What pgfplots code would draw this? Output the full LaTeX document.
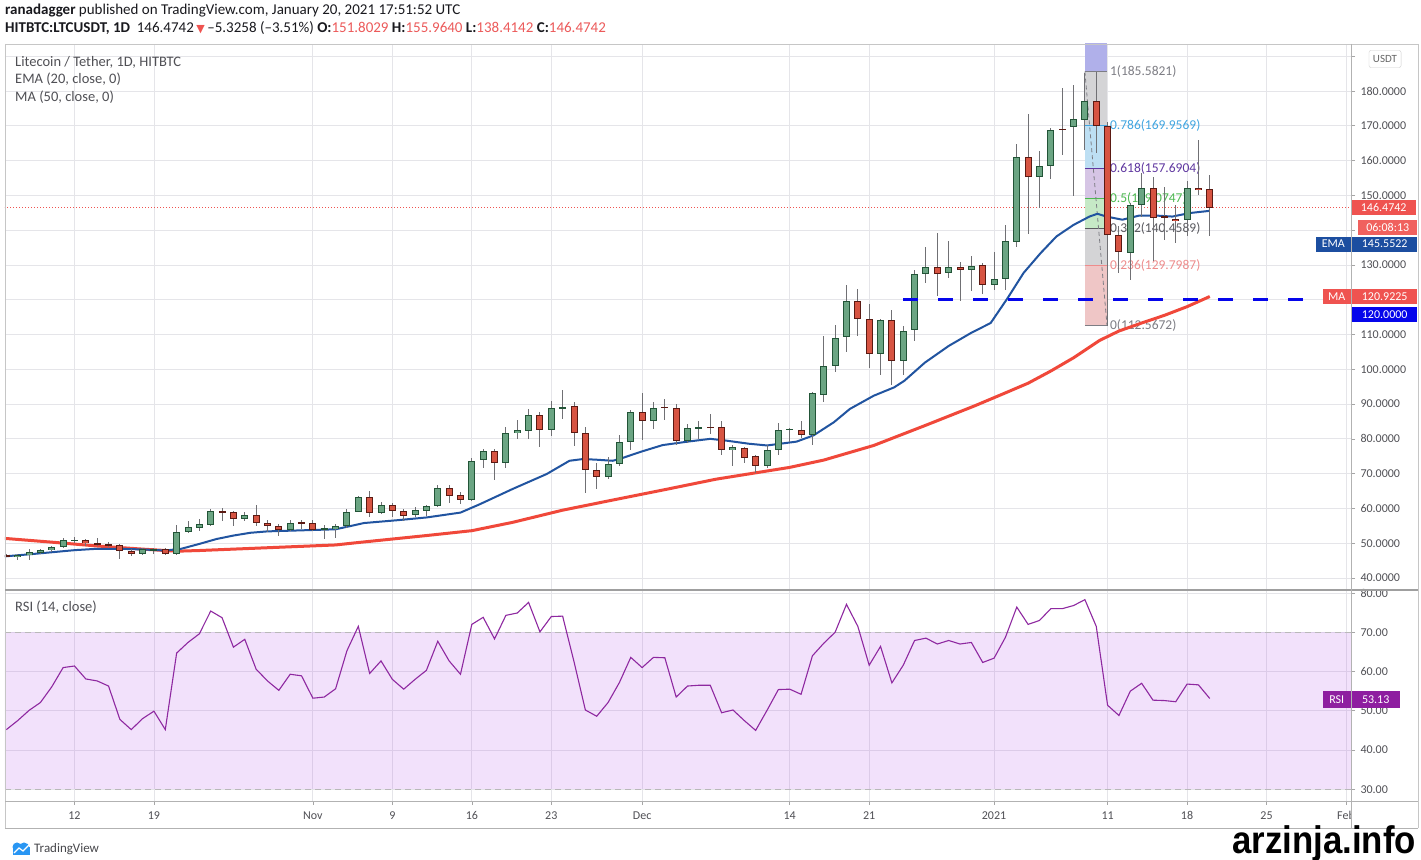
\documentclass[border=0pt]{standalone}
\usepackage{pgfplots}
\pgfplotsset{compat=1.18}
\usepackage{pgfplotstable}
\usepackage{fontspec}
\setmainfont{Carlito}
\newfontfamily\dejavu{DejaVu Sans}
\newfontfamily\libsans{Liberation Sans}
\newcommand{\fs}[1]{\fontsize{#1bp}{#1bp}\selectfont}

\definecolor{upfill}{RGB}{107,165,131}
\definecolor{upline}{RGB}{34,84,55}
\definecolor{dnfill}{RGB}{215,84,66}
\definecolor{dnline}{RGB}{91,26,19}
\definecolor{wick}{RGB}{112,112,116}
\definecolor{emac}{RGB}{33,84,160}
\definecolor{mac}{RGB}{240,72,58}
\definecolor{gridc}{RGB}{229,229,233}
\definecolor{rsic}{RGB}{142,40,160}
\definecolor{rsiband}{RGB}{170,60,230}
\definecolor{txtc}{RGB}{80,80,85}
\definecolor{hdr}{RGB}{25,25,30}
\definecolor{redlab}{RGB}{239,83,80}
\definecolor{redtxt}{RGB}{236,90,90}
\definecolor{emalab}{RGB}{28,78,160}
\definecolor{lvlblue}{RGB}{5,5,235}
\definecolor{rsilab}{RGB}{142,30,160}
\definecolor{tvblue}{RGB}{41,150,243}
\definecolor{fibtop}{RGB}{176,176,234}
\definecolor{fibgray}{RGB}{212,212,214}
\definecolor{fibblue}{RGB}{189,223,243}
\definecolor{fibpurple}{RGB}{214,197,229}
\definecolor{fibgreen}{RGB}{198,233,198}
\definecolor{fibpink}{RGB}{239,198,198}
\definecolor{fl1}{RGB}{125,125,132}
\definecolor{fl786}{RGB}{64,165,225}
\definecolor{fl618}{RGB}{95,55,160}
\definecolor{fl5}{RGB}{76,185,80}
\definecolor{fl382}{RGB}{90,90,95}
\definecolor{fl236}{RGB}{238,140,140}

% day index: 0 = Oct 12, 2020
\pgfplotstableread{
d o h l c
-5 46.0 46.9 45.2 46.6
-4 46.6 48.3 45.3 47.4
-3 47.2 48.4 46.8 48.1
-2 48.0 49.3 47.6 48.9
-1 48.8 51.4 48.6 50.8
0 50.7 51.7 50.1 50.9
6 47.0 48.5 46.7 48.2
7 47.7 48.5 46.9 48.2
9 47.0 55.3 46.6 53.2
10 53.1 56.3 53.0 54.6
11 54.5 57.0 53.4 55.5
12 55.3 59.9 54.9 59.3
15 57.0 59.1 56.5 58.0
19 53.9 56.8 53.6 55.9
22 54.1 55.1 51.1 54.2
23 54.0 55.6 51.5 55.0
24 54.9 59.8 54.3 59.1
25 59.0 63.6 58.9 63.4
27 58.8 61.9 58.4 61.0
30 58.0 60.5 57.4 59.5
31 59.3 61.0 57.7 60.7
32 60.6 66.7 60.3 65.8
35 62.4 74.5 62.2 73.7
36 74.0 77.1 71.5 76.4
38 73.2 83.3 71.5 81.6
39 81.6 85.4 80.1 82.5
40 82.3 88.6 80.1 86.9
42 82.6 91.0 80.9 88.8
43 88.9 94.1 85.7 89.0
47 69.1 74.9 68.4 72.7
48 72.7 81.1 72.1 79.0
49 79.0 88.4 76.8 87.6
51 85.2 90.7 82.7 89.0
54 79.3 84.3 78.9 83.0
55 83.1 85.2 80.0 83.3
58 76.7 78.3 72.2 77.7
61 72.1 78.3 71.5 76.9
62 76.7 84.5 75.4 82.6
63 82.7 83.1 79.2 82.8
65 81.2 93.5 78.1 93.1
66 92.7 109.7 90.5 101.0
67 101.0 112.6 99.2 109.0
68 109.2 124.3 105.0 119.7
71 104.5 114.5 98.4 114.3
73 102.4 112.4 98.4 111.1
74 111.4 128.4 108.1 127.4
75 127.3 135.2 124.8 129.3
77 127.6 137.0 126.2 129.5
79 128.6 132.7 122.4 129.6
81 124.3 133.7 122.9 125.9
82 125.9 141.5 122.9 136.9
83 136.7 164.7 135.1 161.0
85 155.4 162.8 146.3 158.5
86 158.5 169.3 154.6 168.8
88 169.6 181.7 149.7 172.0
89 171.7 185.1 163.1 177.2
93 133.4 147.8 125.7 147.3
94 147.3 156.4 143.9 152.1
98 143.0 154.0 138.2 152.1
}\upc

\pgfplotstableread{
d o h l c
-6 46.5 46.8 46.0 46.3
1 50.8 51.3 49.1 50.0
2 50.0 51.4 49.1 49.6
3 49.8 50.3 49.0 49.4
4 49.5 49.8 45.5 47.7
5 47.8 48.4 46.2 46.9
8 48.2 48.6 46.7 47.0
13 59.3 60.1 56.5 58.9
14 58.9 59.4 54.9 57.0
16 58.0 60.9 54.9 55.9
17 55.9 56.8 53.2 54.9
18 54.9 55.6 52.2 53.9
20 56.0 56.7 54.1 55.8
21 55.8 56.8 53.4 53.9
26 63.4 64.9 57.4 58.8
28 61.0 61.7 57.6 59.3
29 59.3 59.8 56.4 57.9
33 66.0 66.7 61.7 63.6
34 64.0 64.6 61.2 62.5
37 76.4 77.1 68.1 73.2
41 86.9 87.6 77.8 82.6
44 89.5 90.7 78.0 81.6
45 81.7 83.3 64.3 71.0
46 71.0 73.2 65.6 69.1
50 87.6 93.3 79.6 85.2
52 89.1 91.4 85.3 89.0
53 89.0 90.0 78.1 79.5
56 83.4 87.1 81.4 83.3
57 83.3 85.0 75.4 76.7
59 77.4 77.8 73.0 74.6
60 75.0 75.4 70.3 72.1
64 82.6 85.2 80.2 81.1
69 119.7 123.0 109.5 114.5
70 114.5 118.8 100.5 104.5
72 114.3 117.1 95.5 102.4
76 129.3 139.3 121.1 127.4
78 129.5 130.7 119.7 128.6
80 130.0 130.5 121.7 124.1
84 161.1 173.4 138.9 155.4
87 169.0 180.8 161.6 169.1
90 177.2 185.5821 162.1 170.0
91 170.0 171.0 112.5672 138.7
92 138.7 141.1 127.7 133.6
95 152.1 155.2 131.0 143.4
96 144.1 152.5 137.2 143.6
97 143.3 147.1 136.3 142.7
99 152.2 165.9 150.1 151.6
100 151.8029 155.964 138.4142 146.4742
}\dnc

\pgfplotstableread{
d v
-6.2 46.2
-4 46.8
-2 47.4
0 48.0
2 48.4
4 48.4
6 48.2
8 47.9
9.4 48.4
11 49.8
12.5 51.2
14 52.2
15.5 53.0
17 53.4
20 53.7
23 54.0
24.4 55.0
25.5 55.8
28.4 56.6
31 57.4
34 58.8
35.7 61.2
38.6 65.6
41.6 69.9
43.6 73.7
44.8 74.2
46 74.0
47.4 73.7
48 74.2
49.9 76.3
51.8 78.2
54 79.2
56 80.0
57.4 79.5
59.4 78.6
61 78.1
63.6 79.2
65.1 81.0
66.9 84.8
68.3 88.6
70.4 92.4
72.2 94.8
73.1 96.7
74.9 101.9
77 106.7
79 110.5
80.7 113.3
82.2 120.5
83.6 127.7
85.1 133.4
86.5 138.2
88 141.5
89.4 143.9
90.1 144.7
90.9 143.9
92.3 143.0
93.8 144.2
95.2 144.2
96.7 143.9
98.2 144.9
100 145.55
}\ema

\pgfplotstableread{
d v
-6.2 51.4
-2 50.3
2 49.2
6 48.3
9 47.7
11 47.9
17 48.7
23 49.5
25 50.2
28 51.2
31 52.2
35 53.6
38.6 56.0
43 59.5
47.4 62.4
52.3 65.6
56.5 68.4
63 71.8
66 73.9
70.4 78.1
74.9 83.8
79.3 89.5
81.7 92.8
84 96.0
86 99.5
88 103.3
90.3 108.3
92 111.0
94 113.3
96 115.5
98 118.0
100 120.92
}\ma

\pgfplotstableread{
d r
-6 45.2
-5 47.5
-4 50.1
-3 52.1
-2 56.1
-1 61.0
0 61.4
1 58.1
2 57.6
3 56.3
4 47.8
5 45.2
6 48.0
7 49.9
8 45.2
9 64.7
10 67.4
11 69.6
12 75.4
13 73.7
14 66.2
15 68.2
16 60.6
17 57.6
18 55.2
19 59.3
20 58.9
21 53.2
22 53.5
23 55.6
24 65.3
25 71.5
26 59.5
27 62.7
28 58.0
29 55.5
30 58.0
31 60.3
32 67.7
33 62.7
34 59.3
35 72.0
36 73.8
37 68.3
38 74.3
39 74.9
40 77.6
41 70.1
42 74.0
43 74.1
44 62.5
45 50.2
46 48.6
47 52.1
48 57.2
49 63.6
50 61.0
51 63.6
52 63.5
53 53.5
54 56.3
55 56.5
56 56.5
57 49.5
58 50.2
59 47.5
60 45.0
61 50.1
62 55.4
63 55.5
64 54.2
65 64.0
66 67.2
67 70.0
68 77.1
69 71.5
70 61.6
71 66.4
72 57.1
73 61.6
74 67.9
75 68.5
76 67.0
77 67.9
78 67.0
79 67.4
80 62.3
81 63.4
82 68.7
83 76.4
84 72.0
85 73.0
86 76.0
87 76.0
88 76.8
89 78.3
90 71.5
91 51.4
92 48.8
93 55.0
94 57.0
95 52.7
96 52.6
97 52.3
98 56.8
99 56.6
100 53.13
}\rsi

\pgfplotsset{
  wickplot/.style={only marks, mark=none, mark size=0pt, mark options={draw=none, fill=none}, forget plot,
    error bars/.cd, y dir=both, y explicit, error mark=none,
    error bar style={draw=wick, line width=1bp}},
  bodyplot/.style 2 args={only marks, mark=none, mark size=0pt, mark options={draw=none, fill=none}, forget plot,
    error bars/.cd, y dir=both, y explicit, error mark=none,
    error bar style={draw=#1, line width=#2}},
}
\tikzset{lab/.style={inner sep=0pt, minimum height=15bp, text=white, font=\fs{12}}}

\begin{document}
\begin{tikzpicture}
\path[use as bounding box] (0,0) rectangle (1421bp,860bp);
\fill[white] (0,0) rectangle (1421bp,860bp);

% ---------------- price panel ----------------
\begin{axis}[
  at={(5bp,270bp)}, anchor=south west, scale only axis,
  width=1346bp, height=546bp,
  xmin=-6.12, xmax=112.44, ymin=36.55, ymax=193.51,
  axis line style={draw=none},
  xtick={0,7,21,28,35,42,50,63,70,81,91,98,105,112},
  xticklabels={},
  ytick={40,50,...,190},
  yticklabels={40.0000,50.0000,60.0000,70.0000,80.0000,90.0000,100.0000,110.0000,{},130.0000,{},150.0000,160.0000,170.0000,180.0000,{}},
  ytick pos=right, yticklabel pos=right,
  tick align=outside, major tick length=4bp,
  xtick style={draw=none}, ytick style={draw=gray!70, line width=0.6bp},
  grid=major, major grid style={draw=gridc, line width=0.8bp},
  yticklabel style={font=\fs{12}, text=txtc, xshift=2bp},
  clip mode=individual,
]
% current price dotted line
\addplot[redlab, line width=0.8bp, dash pattern=on 1bp off 2bp] coordinates {(-7,146.4742) (113,146.4742)};
% Fibonacci retracement bands
\addplot[draw=none, fill=fibtop] coordinates {(89,185.5821) (90.95,185.5821) (90.95,200) (89,200)} -- cycle;
\addplot[draw=none, fill=fibgray] coordinates {(89,169.9569) (90.95,169.9569) (90.95,185.5821) (89,185.5821)} -- cycle;
\addplot[draw=none, fill=fibblue] coordinates {(89,157.6904) (90.95,157.6904) (90.95,169.9569) (89,169.9569)} -- cycle;
\addplot[draw=none, fill=fibpurple] coordinates {(89,149.0747) (90.95,149.0747) (90.95,157.6904) (89,157.6904)} -- cycle;
\addplot[draw=none, fill=fibgreen] coordinates {(89,140.4589) (90.95,140.4589) (90.95,149.0747) (89,149.0747)} -- cycle;
\addplot[draw=none, fill=fibgray] coordinates {(89,129.7987) (90.95,129.7987) (90.95,140.4589) (89,140.4589)} -- cycle;
\addplot[draw=none, fill=fibpink] coordinates {(89,112.5672) (90.95,112.5672) (90.95,129.7987) (89,129.7987)} -- cycle;
\addplot[fl1, line width=1bp] coordinates {(89,185.5821) (90.95,185.5821)};
\addplot[fl786, line width=1bp] coordinates {(89,169.9569) (90.95,169.9569)};
\addplot[fl618, line width=1bp] coordinates {(89,157.6904) (90.95,157.6904)};
\addplot[fl5, line width=1bp] coordinates {(89,149.0747) (90.95,149.0747)};
\addplot[fl382, line width=1bp] coordinates {(89,140.4589) (90.95,140.4589)};
\addplot[fl236, line width=1bp] coordinates {(89,129.7987) (90.95,129.7987)};
\addplot[fl1, line width=1bp] coordinates {(89,112.5672) (90.95,112.5672)};
\addplot[fl1, line width=0.8bp, dash pattern=on 4bp off 3bp] coordinates {(89,185.5821) (90.95,112.5672)};
\node[anchor=west, inner sep=0, font=\fs{13.5}, text=fl1] at (axis cs:91.2,185.5821) {1(185.5821)};
\node[anchor=west, inner sep=0, font=\fs{13.5}, text=fl786] at (axis cs:91.2,169.9569) {0.786(169.9569)};
\node[anchor=west, inner sep=0, font=\fs{13.5}, text=fl618] at (axis cs:91.2,157.6904) {0.618(157.6904)};
\node[anchor=west, inner sep=0, font=\fs{13.5}, text=fl5] at (axis cs:91.2,149.0747) {0.5(149.0747)};
\node[anchor=west, inner sep=0, font=\fs{13.5}, text=fl382] at (axis cs:91.2,140.4589) {0.382(140.4589)};
\node[anchor=west, inner sep=0, font=\fs{13.5}, text=fl236] at (axis cs:91.2,129.7987) {0.236(129.7987)};
\node[anchor=west, inner sep=0, font=\fs{13.5}, text=fl1] at (axis cs:91.2,112.5672) {0(112.5672)};
% moving averages
\addplot[mac, line width=3bp] table[x=d, y=v] {\ma};
\addplot[emac, line width=2bp] table[x=d, y=v] {\ema};
% candles: wicks
\addplot[wickplot] table[x=d, y expr={(\thisrow{h}+\thisrow{l})/2}, y error expr={(\thisrow{h}-\thisrow{l})/2}] {\upc};
\addplot[wickplot] table[x=d, y expr={(\thisrow{h}+\thisrow{l})/2}, y error expr={(\thisrow{h}-\thisrow{l})/2}] {\dnc};
% candles: bodies (outline, then fill)
\addplot[bodyplot={upline}{7bp}] table[x=d, y expr={(\thisrow{o}+\thisrow{c})/2}, y error expr={max(abs(\thisrow{c}-\thisrow{o})/2,0.15)}] {\upc};
\addplot[bodyplot={upfill}{5bp}] table[x=d, y expr={(\thisrow{o}+\thisrow{c})/2}, y error expr={max(abs(\thisrow{c}-\thisrow{o})/2-0.29,0)}] {\upc};
\addplot[bodyplot={dnline}{7bp}] table[x=d, y expr={(\thisrow{o}+\thisrow{c})/2}, y error expr={max(abs(\thisrow{c}-\thisrow{o})/2,0.15)}] {\dnc};
\addplot[bodyplot={dnfill}{5bp}] table[x=d, y expr={(\thisrow{o}+\thisrow{c})/2}, y error expr={max(abs(\thisrow{c}-\thisrow{o})/2-0.29,0)}] {\dnc};
% horizontal support level
\addplot[lvlblue, line width=3bp, dash pattern=on 15bp off 20bp] coordinates {(73.0,120) (112.44,120)};
% right-hand price labels
\node[lab, anchor=west, fill=redlab, minimum width=65bp] at (axis cs:112.44,146.47) {146.4742};
\node[lab, anchor=west, fill=redlab!92!white, minimum width=59bp, xshift=7bp] at (axis cs:112.44,140.9) {06:08:13};
\node[lab, anchor=east, fill=emalab, minimum width=35bp] at (axis cs:112.44,136.0) {EMA};
\node[lab, anchor=west, fill=emalab, minimum width=65bp, xshift=1bp] at (axis cs:112.44,136.0) {145.5522};
\node[lab, anchor=east, fill=redlab, minimum width=28bp] at (axis cs:112.44,120.92) {MA};
\node[lab, anchor=west, fill=redlab, minimum width=65bp, xshift=1bp] at (axis cs:112.44,120.92) {120.9225};
\node[lab, anchor=west, fill=lvlblue, minimum width=65bp, xshift=1bp] at (axis cs:112.44,115.8) {120.0000};
\end{axis}

% ---------------- RSI panel ----------------
\begin{axis}[
  at={(5bp,59bp)}, anchor=south west, scale only axis,
  width=1346bp, height=211bp,
  xmin=-6.12, xmax=112.44, ymin=27.02, ymax=80.76,
  axis line style={draw=none},
  xtick={0,7,21,28,35,42,50,63,70,81,91,98,105,112},
  xticklabels={12,19,Nov,9,16,23,Dec,14,21,2021,11,18,25,Feb},
  ytick={30,40,...,80},
  yticklabels={30.00,40.00,50.00,60.00,70.00,80.00},
  ytick pos=right, yticklabel pos=right, xtick pos=bottom,
  tick align=outside, major tick length=4bp,
  tick style={draw=gray!70, line width=0.6bp},
  grid=major, major grid style={draw=gridc, line width=0.8bp},
  yticklabel style={font=\fs{12}, text=txtc, xshift=2bp},
  xticklabel style={font=\fs{12}, text=txtc, yshift=-3bp},
  clip mode=individual,
]
\addplot[draw=none, fill=rsiband, fill opacity=0.15] coordinates {(-7,30) (113,30) (113,70) (-7,70)} -- cycle;
\addplot[draw=gray!55, line width=0.8bp, dash pattern=on 6bp off 4bp] coordinates {(-7,70) (113,70)};
\addplot[draw=gray!55, line width=0.8bp, dash pattern=on 6bp off 4bp] coordinates {(-7,30) (113,30)};
\addplot[rsic, line width=1.1bp] table[x=d, y=r] {\rsi};
\node[lab, anchor=east, fill=rsilab, minimum width=28bp, minimum height=17bp] at (axis cs:112.44,52.9) {RSI};
\node[lab, anchor=west, fill=rsilab, minimum width=48bp, minimum height=17bp, xshift=0.5bp] at (axis cs:112.44,52.9) {53.13};
\end{axis}

% clip "Feb" at the price-scale column
\fill[white] (1352bp,33bp) rectangle (1417.5bp,58.5bp);

% frame lines
\draw[gray!45, line width=0.8bp] (5bp,816bp) -- (1418bp,816bp);
\draw[gray!45, line width=0.8bp] (5bp,816bp) -- (5bp,32bp);
\draw[gray!45, line width=0.8bp] (1418bp,816bp) -- (1418bp,32bp);
\draw[gray!75, line width=1.4bp] (5bp,270bp) -- (1418bp,270bp);
\draw[gray!60, line width=0.9bp] (5bp,59bp) -- (1418bp,59bp);
\draw[gray!60, line width=0.9bp] (5bp,32bp) -- (1418bp,32bp);
\draw[gray!60, line width=0.9bp] (1351bp,816bp) -- (1351bp,32bp);

% USDT box
\node[draw=gray!40, fill=white, rounded corners=2bp, inner xsep=4bp, minimum height=17bp, font=\fs{11}, text=gray!80!black] at (1385bp,801bp) {USDT};

% header
\node[anchor=base west, inner sep=0, font=\fs{15}, text=hdr] at (5bp,845bp)
  {\textbf{ranadagger} published on TradingView.com, January 20, 2021 17:51:52 UTC};
\node[anchor=base west, inner sep=0, font=\fs{15}, text=hdr] at (5bp,827.5bp)
  {\textbf{HITBTC:LTCUSDT, 1D}\ \ 146.4742\,{\dejavu\fs{11}\textcolor{redlab}{▼}}\,–5.3258 (–3.51\%)\ \textbf{O:}\textcolor{redtxt}{151.8029}\ \textbf{H:}\textcolor{redtxt}{155.9640}\ \textbf{L:}\textcolor{redtxt}{138.4142}\ \textbf{C:}\textcolor{redtxt}{146.4742}};

% in-chart legend
\node[anchor=base west, inner sep=0, font=\fs{14.5}, text=txtc] at (15bp,793.5bp) {Litecoin / Tether, 1D, HITBTC};
\node[anchor=base west, inner sep=0, font=\fs{14.5}, text=txtc] at (15bp,776bp) {EMA (20, close, 0)};
\node[anchor=base west, inner sep=0, font=\fs{14.5}, text=txtc] at (15bp,758.5bp) {MA (50, close, 0)};
\node[anchor=base west, inner sep=0, font=\fs{14.5}, text=txtc] at (15bp,248.5bp) {RSI (14, close)};

% TradingView logo
\fill[tvblue] (13bp,5bp) rectangle (30bp,13bp);
\fill[tvblue] (17bp,13bp) circle (4.5bp);
\fill[tvblue] (24bp,12bp) circle (5.5bp);
\draw[white, line width=1.2bp] (14bp,7bp) -- (19bp,12bp) -- (23bp,9bp) -- (29bp,15bp);
\node[anchor=base west, inner sep=0, font=\fs{13}, text=hdr!80] at (34bp,8bp) {TradingView};

% watermark
\node[anchor=base east, inner sep=0, font=\libsans\bfseries\fs{37}] at (1416bp,7bp) {\scalebox{0.94}[1.04]{arzinja.info}};
\end{tikzpicture}
\end{document}
